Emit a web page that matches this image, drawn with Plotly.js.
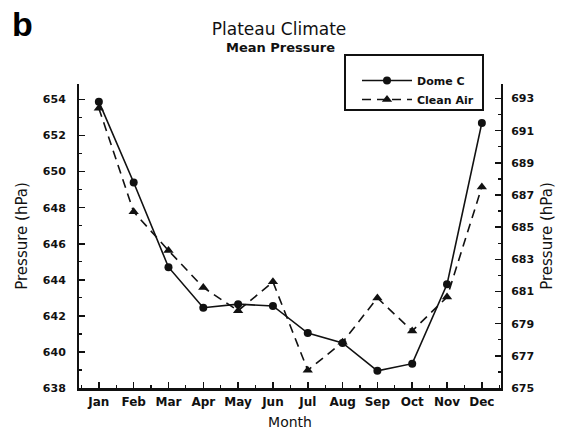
<!DOCTYPE html>
<html>
<head>
<meta charset="utf-8">
<script src="https://cdn.plot.ly/plotly-3.0.1.min.js"></script>
<style>
  html, body { margin: 0; padding: 0; background: #ffffff; }
  #chart { width: 563px; height: 433px; }
</style>
</head>
<body>
<div id="chart"></div>
<script>
// Monthly mean station pressure on the Antarctic plateau
const months = ['Jan', 'Feb', 'Mar', 'Apr', 'May', 'Jun', 'Jul', 'Aug', 'Sep', 'Oct', 'Nov', 'Dec'];
const monthNumber = [1, 2, 3, 4, 5, 6, 7, 8, 9, 10, 11, 12];

// Dome C (left axis, hPa)
const domeC = [653.88, 649.4, 644.7, 642.45, 642.65, 642.55, 641.05, 640.5, 638.95, 639.35, 643.75, 652.7];
// Clean Air, South Pole (right axis, hPa)
const cleanAir = [692.4, 685.95, 683.55, 681.25, 679.8, 681.6, 676.1, 677.85, 680.6, 678.55, 680.65, 687.5];

const FONT = 'DejaVu Sans, Liberation Sans, sans-serif';
const INK = '#111111';
const tickFont = { family: FONT, size: 11, color: INK, weight: 'bold' };

const traces = [
  {
    name: 'Dome C',
    x: monthNumber,
    y: domeC,
    yaxis: 'y',
    mode: 'lines+markers',
    line: { color: INK, width: 1.6 },
    marker: { symbol: 'circle', size: 8, color: INK }
  },
  {
    name: 'Clean Air',
    x: monthNumber,
    y: cleanAir,
    yaxis: 'y2',
    mode: 'lines+markers',
    line: { color: INK, width: 1.6, dash: '9px,6px' },
    marker: { symbol: 'triangle-up', size: 9, color: INK }
  }
];

const layout = {
  width: 563,
  height: 433,
  margin: { l: 79, r: 62, t: 84, b: 45 },
  paper_bgcolor: '#ffffff',
  plot_bgcolor: '#ffffff',
  font: { family: FONT, color: INK, size: 12 },
  title: {
    text: 'Plateau Climate',
    font: { family: FONT, size: 17, color: INK },
    x: 279 / 563,
    xref: 'container',
    xanchor: 'center',
    y: 1 - 29 / 433,
    yref: 'container',
    yanchor: 'middle'
  },
  xaxis: {
    range: [0.43, 12.55],
    tickmode: 'array',
    tickvals: monthNumber,
    ticktext: months,
    ticks: 'inside',
    ticklen: 6,
    tickwidth: 1.5,
    tickcolor: INK,
    minor: { tickmode: 'linear', tick0: 0.5, dtick: 0.5, ticks: 'inside', ticklen: 3, tickwidth: 1.2, tickcolor: INK },
    showline: true,
    linecolor: INK,
    linewidth: 2.5,
    mirror: false,
    showgrid: false,
    zeroline: false,
    ticklabelstandoff: 1,
    tickfont: { family: FONT, size: 12, color: INK, weight: 'bold' },
    title: { text: 'Month', font: { family: FONT, size: 14, color: INK }, standoff: 10 }
  },
  yaxis: {
    range: [638, 654.86],
    tickmode: 'linear',
    tick0: 638,
    dtick: 2,
    ticks: 'inside',
    ticklen: 6,
    tickwidth: 1.5,
    tickcolor: INK,
    minor: { tickmode: 'linear', tick0: 638, dtick: 1, ticks: 'inside', ticklen: 3, tickwidth: 1.2, tickcolor: INK },
    showline: true,
    linecolor: INK,
    linewidth: 2,
    showgrid: false,
    zeroline: false,
    ticklabelstandoff: 9,
    tickfont: tickFont,
    title: { text: 'Pressure (hPa)', font: { family: FONT, size: 15, color: INK }, standoff: 12 }
  },
  yaxis2: {
    overlaying: 'y',
    side: 'right',
    range: [675, 693.9],
    tickmode: 'linear',
    tick0: 675,
    dtick: 2,
    ticks: 'inside',
    ticklen: 6,
    tickwidth: 1.5,
    tickcolor: INK,
    minor: { tickmode: 'linear', tick0: 675, dtick: 1, ticks: 'inside', ticklen: 3, tickwidth: 1.2, tickcolor: INK },
    showline: true,
    linecolor: INK,
    linewidth: 2,
    showgrid: false,
    zeroline: false,
    ticklabelstandoff: 6,
    tickfont: tickFont,
    title: { text: 'Pressure (hPa)', font: { family: FONT, size: 15, color: INK }, standoff: 8 }
  },
  showlegend: true,
  legend: {
    x: (357 - 79) / 422,
    xanchor: 'left',
    y: 1.059,
    yanchor: 'top',
    bgcolor: 'rgba(0,0,0,0)',
    borderwidth: 0,
    itemwidth: 50,
    font: { family: FONT, size: 11, color: INK, weight: 'bold' }
  },
  shapes: [
    // frame around the legend
    {
      type: 'rect', xref: 'paper', yref: 'paper',
      x0: (345 - 79) / 422, x1: (483 - 79) / 422,
      y0: (388 - 110) / 304, y1: (388 - 55) / 304,
      line: { color: INK, width: 2 },
      fillcolor: 'rgba(0,0,0,0)',
      layer: 'above'
    }
  ],
  annotations: [
    {
      text: '<b>Mean Pressure</b>',
      xref: 'paper', yref: 'paper',
      x: (280 - 79) / 422, y: (388 - 47) / 304,
      xanchor: 'center', yanchor: 'middle',
      showarrow: false,
      font: { family: FONT, size: 13, color: INK }
    },
    {
      text: '<b>b</b>',
      xref: 'paper', yref: 'paper',
      x: (22 - 79) / 422, y: (388 - 24) / 304,
      xanchor: 'center', yanchor: 'middle',
      showarrow: false,
      font: { family: 'Liberation Sans, Arial, sans-serif', size: 34, color: '#000000' }
    }
  ]
};

Plotly.newPlot('chart', traces, layout, { displayModeBar: false, staticPlot: true });
</script>
</body>
</html>
